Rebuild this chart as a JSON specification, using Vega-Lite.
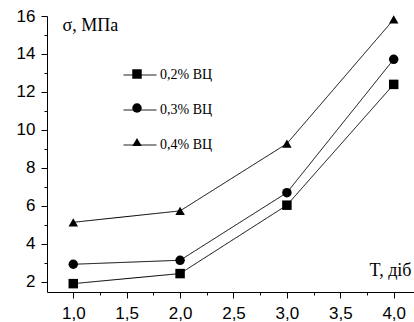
{
  "$schema": "https://vega.github.io/schema/vega-lite/v6.json",
  "width": 367,
  "height": 276,
  "autosize": "none",
  "padding": {"left": 47, "top": 16, "right": 0, "bottom": 30},
  "background": "white",
  "config": {
    "view": {"stroke": null},
    "axis": {"grid": false, "domainColor": "black", "tickColor": "black", "labelColor": "black", "titleColor": "black", "domainWidth": 1, "tickWidth": 1}
  },
  "data": {
    "values": [
      {"T": 1.0, "sigma": 1.91, "series": "0,2% ВЦ"},
      {"T": 2.0, "sigma": 2.44, "series": "0,2% ВЦ"},
      {"T": 3.0, "sigma": 6.04, "series": "0,2% ВЦ"},
      {"T": 4.0, "sigma": 12.4, "series": "0,2% ВЦ"},
      {"T": 1.0, "sigma": 2.93, "series": "0,3% ВЦ"},
      {"T": 2.0, "sigma": 3.14, "series": "0,3% ВЦ"},
      {"T": 3.0, "sigma": 6.7, "series": "0,3% ВЦ"},
      {"T": 4.0, "sigma": 13.72, "series": "0,3% ВЦ"},
      {"T": 1.0, "sigma": 5.14, "series": "0,4% ВЦ"},
      {"T": 2.0, "sigma": 5.74, "series": "0,4% ВЦ"},
      {"T": 3.0, "sigma": 9.28, "series": "0,4% ВЦ"},
      {"T": 4.0, "sigma": 15.82, "series": "0,4% ВЦ"}
    ]
  },
  "resolve": {"axis": {"x": "independent", "y": "independent"}},
  "layer": [
    {
      "mark": {"type": "line", "color": "black", "strokeWidth": 1},
      "encoding": {
        "x": {
          "field": "T", "type": "quantitative",
          "scale": {"domain": [0.754, 4.19], "nice": false, "zero": false},
          "axis": {
            "values": [1, 1.5, 2, 2.5, 3, 3.5, 4],
            "format": ".1f",
            "labelExpr": "replace(datum.label, '.', ',')",
            "tickSize": 6,
            "labelPadding": 7,
            "labelFont": "Liberation Sans",
            "labelFontSize": 17,
            "labelFlush": false,
            "title": "T, діб",
            "titleFont": "Liberation Serif",
            "titleFontSize": 18,
            "titleFontWeight": "normal",
            "titleAnchor": null,
            "titleAlign": "right",
            "titleBaseline": "alphabetic",
            "titleX": 364,
            "titleY": -17
          }
        },
        "y": {
          "field": "sigma", "type": "quantitative",
          "scale": {"domain": [1.47, 16], "nice": false, "zero": false},
          "axis": {
            "values": [2, 4, 6, 8, 10, 12, 14, 16],
            "tickSize": 6,
            "labelPadding": 6,
            "labelFont": "Liberation Sans",
            "labelFontSize": 17,
            "labelFlush": false,
            "title": "σ, МПа",
            "titleFont": "Liberation Serif",
            "titleFontSize": 18,
            "titleFontWeight": "normal",
            "titleAngle": 0,
            "titleAnchor": null,
            "titleAlign": "left",
            "titleBaseline": "alphabetic",
            "titleX": 15,
            "titleY": 14
          }
        },
        "strokeDash": {
          "field": "series", "type": "nominal",
          "scale": {"range": [[1, 0], [1, 0], [1, 0]]},
          "legend": {
            "orient": "none",
            "legendX": 76,
            "legendY": 42,
            "padding": 0,
            "title": null,
            "symbolType": "stroke",
            "symbolSize": 1089,
            "symbolStrokeColor": "black",
            "symbolStrokeWidth": 1,
            "rowPadding": 11,
            "labelOffset": 3,
            "labelFont": "Liberation Serif",
            "labelFontSize": 14,
            "labelColor": "black"
          }
        }
      }
    },
    {
      "mark": {"type": "point", "filled": true, "color": "black", "size": 90, "opacity": 1},
      "encoding": {
        "x": {
          "field": "T", "type": "quantitative",
          "axis": {
            "values": [0.75, 1.25, 1.75, 2.25, 2.75, 3.25, 3.75],
            "labels": false, "domain": false, "tickSize": 3, "title": null, "orient": "bottom"
          }
        },
        "y": {
          "field": "sigma", "type": "quantitative",
          "axis": {
            "values": [3, 5, 7, 9, 11, 13, 15],
            "labels": false, "domain": false, "tickSize": 3, "title": null, "orient": "left"
          }
        },
        "shape": {
          "field": "series", "type": "nominal",
          "scale": {"range": ["square", "circle", "triangle-up"]},
          "legend": {
            "orient": "none",
            "legendX": 85,
            "legendY": 53,
            "padding": 0,
            "title": null,
            "symbolSize": 90,
            "symbolFillColor": "black",
            "symbolStrokeColor": "black",
            "symbolStrokeWidth": 0,
            "symbolOpacity": 1,
            "labelExpr": "''",
            "labelOffset": 0,
            "rowPadding": 24
          }
        }
      }
    }
  ]
}
